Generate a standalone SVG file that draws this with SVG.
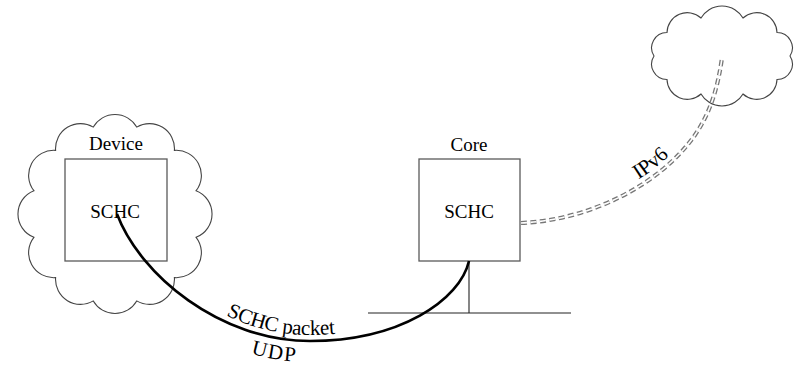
<svg xmlns="http://www.w3.org/2000/svg" xmlns:xlink="http://www.w3.org/1999/xlink" width="803" height="366" viewBox="0 0 803 366">
  <style>
    .cloud { fill: #ffffff; stroke: #444444; stroke-width: 1.1; }
    .box { fill: #ffffff; stroke: #5a5a5a; stroke-width: 1.3; }
    .label { font-family: "Liberation Serif", "Times New Roman", serif; font-size: 19px; fill: #000000; text-anchor: middle; }
    .edge-label { font-family: "Liberation Serif", "Times New Roman", serif; font-size: 21px; fill: #000000; }
    .udp { fill: none; stroke: #000000; stroke-width: 2.6; }
    .ipv6-outer { fill: none; stroke: #777777; stroke-width: 4.2; stroke-dasharray: 6 3.5; }
    .ipv6-inner { fill: none; stroke: #ffffff; stroke-width: 1.6; stroke-dasharray: 6 3.5; }
    .bus { fill: none; stroke: #222222; stroke-width: 1.1; }
  </style>
  <defs>
    <path id="udp-path" d="M117,214 C140,275 220,341 310,341 C400,341 460,300 469,261"/>
    <path id="ipv6-path" d="M521,223 C590,220 660,185 695,135 C712,110 718,85 722,58"/>
  </defs>

  <!-- Device cloud with its SCHC box -->
  <g id="device">
    <path class="cloud" d="M136.7,127.1 A25,25 0 0 1 174.4,150.4 A25,25 0 0 1 196.1,190.7 A25,25 0 0 1 196.1,237.3 A25,25 0 0 1 174.4,277.6 A25,25 0 0 1 136.7,300.9 A25,25 0 0 1 93.3,300.9 A25,25 0 0 1 55.6,277.6 A25,25 0 0 1 33.9,237.3 A25,25 0 0 1 33.9,190.7 A25,25 0 0 1 55.6,150.4 A25,25 0 0 1 93.3,127.1 A25,25 0 0 1 136.7,127.1 Z"/>
    <text class="label" x="116" y="150">Device</text>
    <rect class="box" x="65" y="159" width="102" height="102"/>
    <text class="label" x="115" y="218">SCHC</text>
  </g>

  <!-- Core box on its network segment -->
  <g id="core">
    <text class="label" x="469" y="151">Core</text>
    <rect class="box" x="419" y="159" width="101" height="102"/>
    <text class="label" x="469" y="218">SCHC</text>
    <line class="bus" x1="469" y1="261" x2="469" y2="313"/>
    <line class="bus" x1="368" y1="313" x2="571" y2="313"/>
  </g>

  <!-- Internet cloud -->
  <g id="internet">
    <path class="cloud" d="M743,18 A20.3,20.3 0 0 1 777,32.5 A15.3,15.3 0 0 1 790,56 A15.3,15.3 0 0 1 777,79.5 A20.3,20.3 0 0 1 743,94 A24.4,24.4 0 0 1 701,94 A20.3,20.3 0 0 1 667,79.5 A15.3,15.3 0 0 1 654,56 A15.3,15.3 0 0 1 667,32.5 A20.3,20.3 0 0 1 701,18 A24.4,24.4 0 0 1 743,18 Z"/>
  </g>

  <!-- Connectors -->
  <g id="connectors">
    <use href="#udp-path" xlink:href="#udp-path" class="udp"/>
    <text class="edge-label"><textPath href="#udp-path" xlink:href="#udp-path" startOffset="212" text-anchor="middle"><tspan dy="-6">SCHC packet</tspan></textPath></text>
    <text class="edge-label"><textPath href="#udp-path" xlink:href="#udp-path" startOffset="210" text-anchor="middle"><tspan dy="21">UDP</tspan></textPath></text>

    <use href="#ipv6-path" xlink:href="#ipv6-path" class="ipv6-outer"/>
    <use href="#ipv6-path" xlink:href="#ipv6-path" class="ipv6-inner"/>
    <text class="edge-label"><textPath href="#ipv6-path" xlink:href="#ipv6-path" startOffset="148" text-anchor="middle"><tspan dy="-6">IPv6</tspan></textPath></text>
  </g>
</svg>
